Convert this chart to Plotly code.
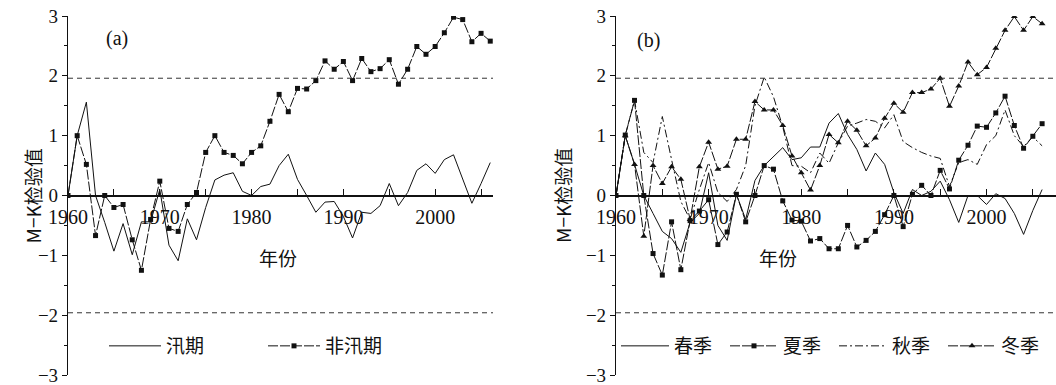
import plotly.graph_objects as go

years = list(range(1960, 2007))

flood = [0, 1.0, 1.56, 0.0, -0.45, -0.93, -0.47, -0.99, -0.44, -0.44,
         0.1, -0.83, -1.09, -0.39, -0.74, -0.2, 0.26, 0.34, 0.38, 0.07,
         0.0, 0.15, 0.19, 0.5, 0.69, 0.27, 0.0, -0.28, -0.11, -0.1,
         -0.35, -0.71, -0.28, -0.3, -0.17, 0.2, -0.17, 0.05, 0.42, 0.53,
         0.37, 0.6, 0.68, 0.27, -0.13, 0.2, 0.55]
nonflood = [0, 1.0, 0.52, -0.67, 0.0, -0.2, -0.15, -0.74, -1.25, -0.4,
            0.24, -0.55, -0.6, -0.15, 0.05, 0.72, 1.0, 0.72, 0.67, 0.53,
            0.72, 0.83, 1.24, 1.69, 1.4, 1.79, 1.78, 1.92, 2.25, 2.11,
            2.24, 1.92, 2.29, 2.07, 2.12, 2.27, 1.86, 2.11, 2.49, 2.36,
            2.49, 2.72, 2.98, 2.94, 2.57, 2.71, 2.58]

spring = [0, 1.0, 0.52, 0.0, -0.3, -0.6, -0.72, -0.95, -0.45, -0.3,
          0.38, -0.5, -0.75, 0.02, -0.4, 0.25, 0.5, 0.65, 0.8, 0.6,
          0.63, 0.81, 0.81, 1.21, 1.37, 1.02, 0.77, 0.41, 0.71, 0.52,
          0.05, -0.3, 0.1, 0.0, 0.07, 0.24, -0.07, -0.45, 0.0, 0.0,
          -0.15, 0.03, -0.05, -0.3, -0.65, -0.25, 0.1]
summer = [0, 1.01, 1.59, 0.0, -0.97, -1.33, -0.44, -1.24, -0.42, -0.26,
          -0.07, -0.82, -0.61, 0.02, -0.44, 0.0, 0.5, 0.44, -0.09, -0.41,
          -0.43, -0.76, -0.72, -0.89, -0.89, -0.5, -0.86, -0.75, -0.6, -0.32,
          0.0, -0.52, 0.02, 0.17, 0.0, 0.42, 0.11, 0.59, 0.84, 1.16,
          1.14, 1.38, 1.66, 1.17, 0.79, 0.99, 1.2]
autumn = [0, 1.0, 1.59, 0.72, 0.55, 1.32, 0.6, -0.1, -0.4, 0.1,
          0.55, 0.05, -0.1, 0.1, 0.5, 1.5, 1.98, 1.65, 1.15, 0.5,
          0.49, 0.38, 0.71, 0.54, 0.88, 1.16, 1.21, 1.27, 1.24, 1.13,
          1.35, 0.9, 0.8, 0.72, 0.66, 0.62, 0.15, 0.55, 0.6, 0.52,
          0.85, 1.0, 1.43, 1.0, 0.82, 0.98, 0.83]
winter = [0, 1.0, 0.52, -0.68, 0.5, 0.2, 0.48, 0.27, -0.4, 0.48,
          0.89, 0.44, 0.49, 0.94, 0.94, 1.57, 1.43, 1.43, 1.17, 0.66,
          0.38, 0.09, 0.5, 1.02, 0.88, 1.24, 1.09, 0.83, 0.96, 1.29,
          1.54, 1.39, 1.72, 1.72, 1.78, 1.96, 1.49, 1.83, 2.23, 2.02,
          2.14, 2.46, 2.76, 2.99, 2.76, 2.99, 2.87]

threshold = 1.96
y_ticks = [-3, -2, -1, 0, 1, 2, 3]
x_ticks = [1960, 1970, 1980, 1990, 2000]

W, H = 1056, 385
SERIF = "Liberation Serif, Times New Roman, serif"
CJK = "Noto Sans CJK SC"
BLACK = "#111111"

fig = go.Figure()

# left panel
fig.add_trace(go.Scatter(x=years, y=flood, mode="lines", name="汛期",
                         line=dict(color=BLACK, width=1), xaxis="x", yaxis="y",
                         legend="legend"))
fig.add_trace(go.Scatter(x=years, y=nonflood, mode="lines+markers", name="非汛期",
                         line=dict(color=BLACK, width=1, dash="10px,2px"),
                         marker=dict(symbol="square", size=5, color=BLACK),
                         xaxis="x", yaxis="y", legend="legend"))
# right panel
fig.add_trace(go.Scatter(x=years, y=spring, mode="lines", name="春季",
                         line=dict(color=BLACK, width=1), xaxis="x2", yaxis="y2",
                         legend="legend2"))
fig.add_trace(go.Scatter(x=years, y=summer, mode="lines+markers", name="夏季",
                         line=dict(color=BLACK, width=1, dash="10px,2px"),
                         marker=dict(symbol="square", size=5, color=BLACK),
                         xaxis="x2", yaxis="y2", legend="legend2"))
fig.add_trace(go.Scatter(x=years, y=autumn, mode="lines", name="秋季",
                         line=dict(color=BLACK, width=1, dash="8px,3px,2px,3px"),
                         xaxis="x2", yaxis="y2", legend="legend2"))
fig.add_trace(go.Scatter(x=years, y=winter, mode="lines+markers", name="冬季",
                         line=dict(color=BLACK, width=1, dash="10px,2px"),
                         marker=dict(symbol="triangle-up", size=6, color=BLACK),
                         xaxis="x2", yaxis="y2", legend="legend2"))

# threshold lines
for xr, yr in (("x domain", "y"), ("x2 domain", "y2")):
    for v in (threshold, -threshold):
        fig.add_shape(type="line", xref=xr, yref=yr, x0=0, x1=1, y0=v, y1=v,
                      line=dict(color="#333333", width=1, dash="5px,4px"))

ybot = (H - 375) / H
ytop = (H - 16) / H
ymid = (ybot + ytop) / 2

def xaxis_cfg(dom, rng, anchor_pos):
    return dict(domain=dom, range=rng, anchor="free", position=anchor_pos,
                automargin=False, ticklabelstandoff=4, ticklabeloverflow="allow",
                showline=True, linecolor=BLACK, linewidth=1.5,
                tickvals=x_ticks, ticks="inside", ticklen=6, tickcolor=BLACK,
                minor=dict(dtick=5, tick0=1960, ticks="inside", ticklen=6, tickcolor=BLACK),
                showgrid=False, zeroline=False,
                tickfont=dict(family=SERIF, size=20, color=BLACK))

def yaxis_cfg(dom, anchor):
    return dict(domain=dom, range=[-3, 3], anchor=anchor, automargin=False,
                ticklabeloverflow="allow",
                showline=True, linecolor=BLACK, linewidth=1.2,
                tickvals=y_ticks, ticks="outside", ticklen=5, tickcolor=BLACK,
                minor=dict(dtick=0.5, ticks="outside", ticklen=3, tickcolor=BLACK),
                showgrid=False, zeroline=False,
                tickfont=dict(family=SERIF, size=19, color=BLACK))

left_dom = [68 / W, 493 / W]
right_dom = [616 / W, 1.0]

fig.update_layout(
    width=W, height=H,
    margin=dict(l=0, r=0, t=0, b=0, autoexpand=False),
    paper_bgcolor="white", plot_bgcolor="white",
    xaxis=xaxis_cfg(left_dom, [1960, 2006.3], ymid),
    yaxis=yaxis_cfg([ybot, ytop], "x"),
    xaxis2=xaxis_cfg(right_dom, [1960, 2007.5], ymid),
    yaxis2=yaxis_cfg([ybot, ytop], "x2"),
    showlegend=True,
    legend=dict(orientation="h", x=104 / W, y=1 - 346 / H, xanchor="left", yanchor="middle",
                font=dict(family=CJK, size=19, color=BLACK), bgcolor="rgba(0,0,0,0)",
                itemwidth=52, entrywidth=92, entrywidthmode="pixels"),
    legend2=dict(orientation="h", x=616 / W, y=1 - 346 / H, xanchor="left", yanchor="middle",
                 font=dict(family=CJK, size=19, color=BLACK), bgcolor="rgba(0,0,0,0)",
                 itemwidth=48, entrywidth=46, entrywidthmode="pixels"),
)

anns = [
    dict(text="(a)", x=104 / W, y=1 - 25 / H),
    dict(text="(b)", x=648 / W, y=1 - 27 / H),
]
for a in anns:
    fig.add_annotation(xref="paper", yref="paper", x=a["x"], y=a["y"], text=a["text"],
                       showarrow=False, font=dict(family=SERIF, size=20, color=BLACK))
for xx in (257 / W, 799 / W):
    fig.add_annotation(xref="paper", yref="paper", x=xx, y=1 - 273 / H, text="年份",
                       showarrow=False, font=dict(family=CJK, size=19, color=BLACK))
for xx in (17 / W, 563 / W):
    fig.add_annotation(xref="paper", yref="paper", x=xx, y=1 - 196 / H, text="M−K检验值",
                       textangle=-90, showarrow=False,
                       font=dict(family=CJK, size=19, color=BLACK))

fig.write_html("out.html", config={"displayModeBar": False},
               post_script="document.body.style.margin='0px';document.body.style.overflow='hidden';")
